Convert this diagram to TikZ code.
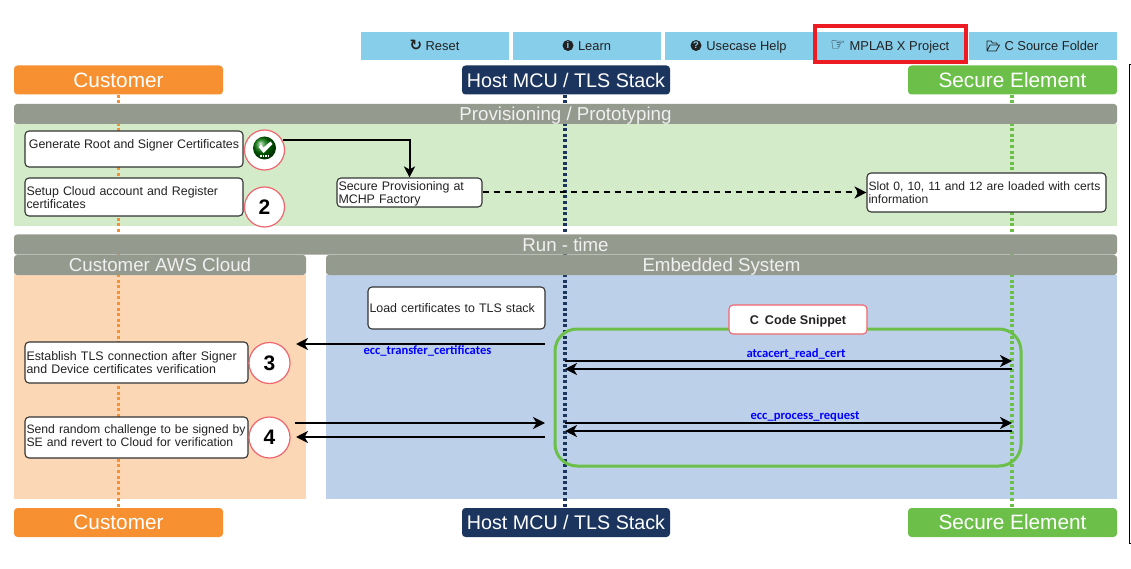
\documentclass[tikz,border=0pt]{standalone}
\usepackage{fontspec}
\setmainfont{Liberation Sans}
\newfontfamily\dejavu{DejaVu Sans}
\newfontfamily\carlito{Carlito}
\usetikzlibrary{arrows.meta,calc}
\definecolor{custorange}{HTML}{F79031}
\definecolor{hostnavy}{HTML}{1C355E}
\definecolor{segreen}{HTML}{6CC04A}
\definecolor{bargray}{HTML}{959A8E}
\definecolor{paleGreen}{HTML}{D3EBC9}
\definecolor{palePeach}{HTML}{FBD7B5}
\definecolor{paleBlue}{HTML}{BDD0EA}
\definecolor{skyBtn}{HTML}{87CEEB}
\definecolor{frameRed}{HTML}{ED1C24}
\definecolor{txtGray}{HTML}{222222}
\definecolor{edgeGray}{HTML}{333333}
\definecolor{circRed}{HTML}{F0666E}
\newcommand{\fs}[1]{\fontsize{#1}{#1}\selectfont}
\tikzset{
  x=1pt,y=-1pt,
  btn/.style={fill=skyBtn,minimum width=148pt,minimum height=28pt,inner sep=0pt,text=txtGray,text height=12pt,text depth=3pt,font=\fs{12.9}},
  head/.style={fill=#1,rounded corners=3.5pt,minimum width=209pt,minimum height=29pt,inner sep=0pt,text=white,font=\fs{20.8}},
  bar/.style={fill=bargray,rounded corners=3pt,inner sep=0pt,minimum height=20pt,text=white!94!black,text height=15.4pt,text depth=2pt,font=\fs{18.7}},
  life/.style={#1,line width=3.2pt,dash pattern=on 3pt off 2.6pt},
  note/.style={draw=edgeGray,line width=1.1pt,fill=white,rounded corners=4pt,inner sep=1.5pt,align=left,text=txtGray,font=\fontsize{12.4}{13}\selectfont},
  stepcirc/.style={circle,draw=circRed,line width=1.2pt,fill=white,minimum size=41pt,inner sep=0pt,font=\bfseries\fs{21}},
  flow/.style={line width=1.9pt,-{Stealth[length=12pt,width=12pt,inset=3.5pt]}},
  apilabel/.style={text=blue,inner sep=0pt,font=\carlito\bfseries\fs{12.6}},
  circicon/.style={circle,fill=txtGray,text=skyBtn,minimum size=11pt,inner sep=0pt,font=\bfseries\fs{9.5}},
  glyphicon/.style={inner sep=0pt,text=txtGray,font=\dejavu\fs{17}},
}
\begin{document}
\begin{tikzpicture}
\useasboundingbox (0,0) rectangle (1131,569);
\fill[white] (0,0) rectangle (1131,569);
% backgrounds
\fill[paleGreen] (14,124) rectangle (1117,226);
\fill[palePeach] (14,275) rectangle (306,499);
\fill[paleBlue] (326,275) rectangle (1117,499);
% headers
\node[head=custorange] (custTop) at (118.5,80) {Customer};
\node[head=hostnavy,minimum width=208pt,font=\fs{19.7}] (hostTop) at (566,80) {Host MCU / TLS Stack};
\node[head=segreen] (seTop) at (1012.5,80) {Secure Element};
\node[head=custorange] (custBot) at (118.5,522.5) {Customer};
\node[head=hostnavy,minimum width=208pt,font=\fs{19.7}] (hostBot) at (566,522.5) {Host MCU / TLS Stack};
\node[head=segreen] (seBot) at (1012.5,522.5) {Secure Element};
% lifelines
\draw[life=custorange] (custTop.south) -- (custBot.north);
\draw[life=hostnavy] ([xshift=-1pt]hostTop.south) -- ([xshift=-1pt]hostBot.north);
\draw[life=segreen] ([xshift=-.5pt]seTop.south) -- ([xshift=-.5pt]seBot.north);
% bars
\node[bar,minimum width=1103pt] (provBar) at (565.5,114) {Provisioning / Prototyping};
\node[bar,minimum width=1103pt] (runBar) at (565.5,244.5) {Run - time};
\node[bar,minimum width=292pt] (awsBar) at (160,265) {Customer AWS Cloud};
\node[bar,minimum width=791pt] (embBar) at (721.5,265) {Embedded System};
% buttons
\node[btn] (bReset) at (435,46) {\hspace{15pt}Reset};
\node[btn] (bLearn) at (587,46) {\hspace{15pt}Learn};
\node[btn] (bHelp) at (739,46) {\hspace{15pt}Usecase Help};
\node[btn] (bProj) at (891,46) {\hspace{17pt}MPLAB X Project};
\node[btn] (bSrc) at (1043,46) {\hspace{17pt}C Source Folder};
\node[glyphicon,font=\dejavu\bfseries\fs{15}] (iReset) at (416,45) {↻};
\node[circicon] (iLearn) at (568,45.5) {i};
\node[circicon] (iHelp) at (696,45.5) {?};
\node[glyphicon] (iProj) at (838,45.5) {☞};
\draw[txtGray,line width=.8pt,line join=round] (987,51) -- (987,41) -- (991,41) -- (992.5,43) -- (997,43) -- (997,45) (987,51) -- (996,51) -- (999.5,45) -- (990,45) -- (987,51);
\draw[frameRed,line width=4pt] (815,26) rectangle (966,62);
% provisioning
\node[note,align=center,minimum width=218pt,minimum height=36pt,text height=9pt,text depth=10pt] (gen) at (134,149) {Generate Root and Signer Certificates};
\node[stepcirc,minimum size=40pt] (c1) at (264.5,150) {};
\shade[ball color=green!45!black] (264.5,148) circle (11.5);
\fill[white] (258.5,147) -- (261,144.5) -- (263.5,147.5) -- (270.5,141.5) -- (272.5,144) -- (263.5,153) -- cycle;
\draw[white,line width=1.2pt,dash pattern=on 1.5pt off 1pt] (260,156) -- (270,156);
\node[note,minimum width=218pt,minimum height=38pt,text width=215pt] (setup) at (134,197) {Setup Cloud account and Register\\certificates\par\vspace{-2pt}};
\node[stepcirc,minimum size=40pt] (c2) at (264.5,207) {2};
\node[note,minimum width=145pt,minimum height=29pt,text width=142pt] (prov) at (409.5,192.5) {Secure Provisioning at\\MCHP Factory\par\vspace{-2pt}};
\node[note,minimum width=239pt,minimum height=39pt,text width=236pt,font=\fontsize{12.1}{13}\selectfont] (slot) at (986.5,192.5) {Slot 0, 10, 11 and 12 are loaded with certs\\information};
\draw[line width=2pt,-{Stealth[length=11pt,width=11pt,inset=3pt]}] ([yshift=1.3pt]c1.25) -| (prov.north);
\draw[line width=2pt,dash pattern=on 6pt off 5pt,-{Stealth[length=12pt,width=12pt,inset=3.5pt]}] (prov.east) -- (slot.west);
% run-time
\node[note,minimum width=177pt,minimum height=42pt,text width=174pt] (load) at (456.5,308) {Load certificates to TLS stack\par\vspace{-2pt}};
\node[note,minimum width=223pt,minimum height=41pt,text width=220pt] (estab) at (136.5,362.5) {Establish TLS connection after Signer\\and Device certificates verification};
\node[stepcirc] (c3) at (269.5,363) {3};
\node[note,minimum width=223pt,minimum height=41pt,text width=220pt,font=\fontsize{12.2}{13}\selectfont] (send) at (136.5,437.5) {Send random challenge to be signed by\\SE and revert to Cloud for verification\par\vspace{3pt}};
\node[stepcirc] (c4) at (269.5,437.5) {4};
% code snippet frame
\draw[segreen,line width=3pt,rounded corners=22pt] (555,329) rectangle (1021,466);
\node[draw=circRed,line width=1.1pt,fill=white,rounded corners=4pt,minimum width=138pt,minimum height=29pt,inner sep=0pt,text=txtGray,text height=12.6pt,text depth=3.6pt,font=\bfseries\fs{12.6}] (snip) at (798,319.5) {C\hspace{6pt}Code Snippet};
% connectors
\coordinate (hA) at (565,361);
\coordinate (sA) at (1012,361);
\coordinate (hB) at (565,369);
\coordinate (sB) at (1012,369);
\coordinate (hC) at (565,423);
\coordinate (sC) at (1012,423);
\coordinate (hD) at (565,431);
\coordinate (sD) at (1012,431);
\coordinate (tA) at (545,344);
\coordinate (cA) at (296,344);
\coordinate (cB) at (295,423);
\coordinate (tB) at (545,423);
\coordinate (tC) at (545,437);
\coordinate (cC) at (296,437);
\draw[flow] (tA) -- (cA);
\draw[flow] (cB) -- (tB);
\draw[flow] (tC) -- (cC);
\draw[flow] (hA) -- (sA);
\draw[flow] (sB) -- (hB);
\draw[flow] (hC) -- (sC);
\draw[flow] (sD) -- (hD);
\node[apilabel] (l1) at (427.5,350.5) {ecc\_transfer\_certificates};
\node[apilabel] (l2) at (796,354) {atcacert\_read\_cert};
\node[apilabel] (l3) at (805,416.5) {ecc\_process\_request};
% page edge
\draw[black,line width=1.2pt] (1131,64.5) -- (1129.5,64.5) -- (1129.5,543.5) -- (1131,543.5);
\end{tikzpicture}
\end{document}
